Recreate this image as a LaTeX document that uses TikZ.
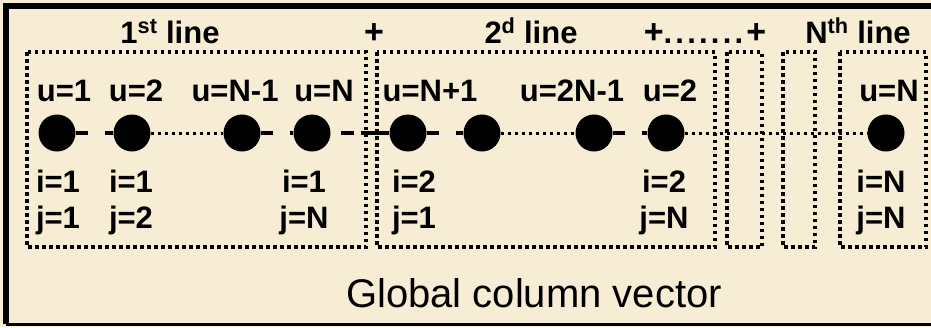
\documentclass[tikz,border=0pt]{standalone}
\usepackage{fontspec}
\setmainfont{Liberation Sans}
\definecolor{bg}{RGB}{246,237,212}
\newcommand{\kd}{\kern3.2pt.}
\begin{document}
\begin{tikzpicture}[x=1pt,y=-1pt,
  lbl/.style={font=\bfseries\fontsize{31}{31}\selectfont, inner sep=0pt, anchor=base},
  big/.style={font=\fontsize{40}{40}\selectfont, inner sep=0pt, anchor=base},
  dotn/.style={circle, fill=black, minimum size=37pt, inner sep=0pt},
  dbox/.style={draw, line width=3.2pt, dash pattern=on 3.5pt off 3.5pt},
  dashlink/.style={line width=3.5pt, dash pattern=on 12pt off 17pt},
  dotlink/.style={line width=3pt, dash pattern=on 3.5pt off 3.5pt}]
\fill[bg] (0,0) rectangle (931,327);
\useasboundingbox (0,0) rectangle (931,327);
% frame
\draw[line width=6pt] (940,6) -- (6,6) -- (6,324);
\draw[line width=3pt] (6,324) -- (940,324);
% dotted boxes
\draw[dbox] (27,52) rectangle (366,247);
\draw[dbox] (377,52) rectangle (715,247);
\draw[dbox] (727,52) rectangle (762,247);
\draw[dbox] (783,52) rectangle (815,247);
\draw[dbox] (840,52) rectangle (926,247);
% headings
\node[lbl] (h1) at (170,43) {1\textsuperscript{st} line};
\node[lbl, font=\bfseries\fontsize{34}{34}\selectfont] (p1) at (374,43) {+};
\node[lbl] (h2) at (531,43) {2\textsuperscript{d} line};
\node[lbl] (p2) at (705,43) {{\fontsize{34}{34}\selectfont+}.\kd\kd\kd\kd\kd\kd\kern3.2pt{\fontsize{34}{34}\selectfont+}};
\node[lbl] (h3) at (858,43) {N\textsuperscript{th} line};
% u labels
\node[lbl] (u1) at (64,101) {u=1};
\node[lbl] (u2) at (136,101) {u=2};
\node[lbl] (u3) at (235,101) {u=N-1};
\node[lbl] (u4) at (324,101) {u=N};
\node[lbl] (u5) at (430,101) {u=N+1};
\node[lbl] (u6) at (572,101) {u=2N-1};
\node[lbl] (u7) at (670,101) {u=2};
\node[lbl] (u9) at (889,101) {u=N};
% dots
\node[dotn] (c1) at (57,133) {};
\node[dotn] (c2) at (132,133) {};
\node[dotn] (c3) at (242,133) {};
\node[dotn] (c4) at (312,133) {};
\node[dotn] (c5) at (408,133) {};
\node[dotn] (c6) at (482,133) {};
\node[dotn] (c7) at (594,133) {};
\node[dotn] (c8) at (666,133) {};
\node[dotn] (c9) at (886,133) {};
% links
\draw[dashlink] (c1) -- (c2);
\draw[dotlink] (c2) -- (c3);
\draw[dashlink] (c3) -- (c4);
\draw[line width=3.5pt, dash pattern=on 13pt off 7pt on 40pt off 10pt, dash phase=60pt] (c4) -- (c5);
\draw[dashlink] (c5) -- (c6);
\draw[dotlink] (c6) -- (c7);
\draw[dashlink] (c7) -- (c8);
\draw[dotlink] (c8) -- (c9);
% i j labels
\node[lbl] (i1) at (58,192) {i=1};
\node[lbl] (j1) at (58,228) {j=1};
\node[lbl] (i2) at (131,192) {i=1};
\node[lbl] (j2) at (131,228) {j=2};
\node[lbl] (i4) at (304,192) {i=1};
\node[lbl] (j4) at (304,228) {j=N};
\node[lbl] (i5) at (414,192) {i=2};
\node[lbl] (j5) at (414,228) {j=1};
\node[lbl] (i8) at (664,192) {i=2};
\node[lbl] (j8) at (664,228) {j=N};
\node[lbl] (i9) at (881,192) {i=N};
\node[lbl] (j9) at (881,228) {j=N};
% caption
\node[big] (cap) at (534,307) {Global column vector};
\end{tikzpicture}
\end{document}
